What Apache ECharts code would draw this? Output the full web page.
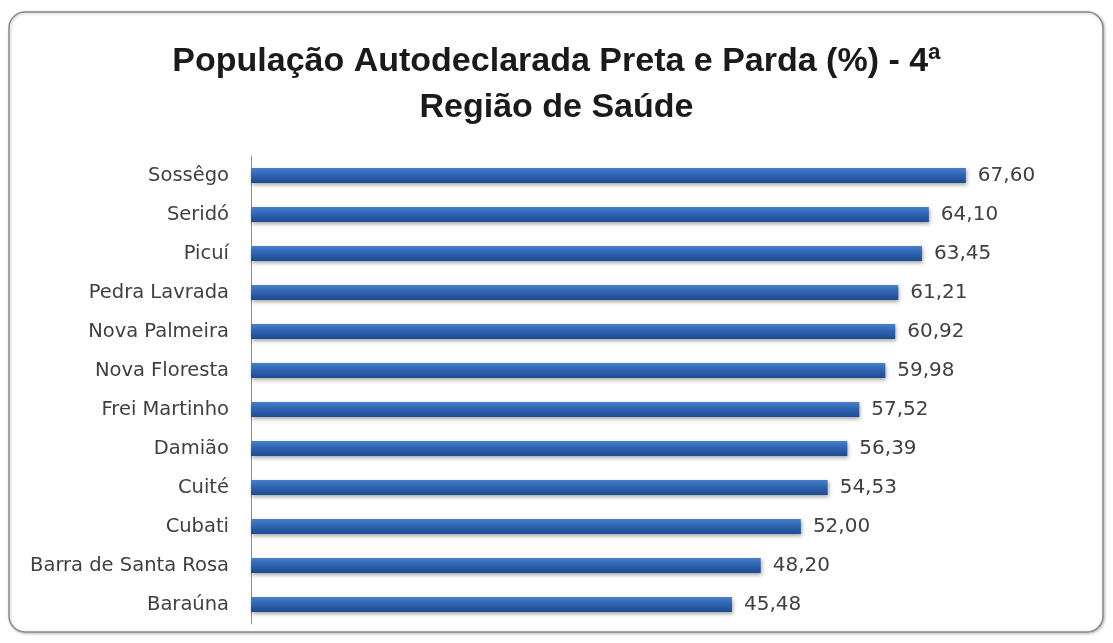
<!DOCTYPE html>
<html>
<head>
<meta charset="utf-8">
<script src="https://cdn.jsdelivr.net/npm/echarts@6/dist/echarts.min.js"></script>
<style>
html,body{margin:0;padding:0;background:#fff;}
#c{width:1113px;height:643px;}
</style>
</head>
<body>
<div id="c"></div>
<script>
const titleText = 'População Autodeclarada Preta e Parda (%) - 4ª\nRegião de Saúde';
const categories = ['Baraúna','Barra de Santa Rosa','Cubati','Cuité','Damião','Frei Martinho','Nova Floresta','Nova Palmeira','Pedra Lavrada','Picuí','Seridó','Sossêgo'];
const values = [45.48,48.20,52.00,54.53,56.39,57.52,59.98,60.92,61.21,63.45,64.10,67.60];

const chart = echarts.init(document.getElementById('c'));
chart.setOption({
  animation: false,
  backgroundColor: '#fff',
  graphic: [{
    type: 'rect',
    shape: {x: 9, y: 12, width: 1094, height: 620, r: 16},
    style: {fill: '#fff', stroke: '#8a8a8a', lineWidth: 1.5, shadowBlur: 3, shadowColor: 'rgba(0,0,0,0.25)', shadowOffsetX: 1, shadowOffsetY: 1},
    z: -10, silent: true
  }],
  title: {
    text: titleText,
    left: 'center',
    top: 34,
    textStyle: {fontFamily: 'Liberation Sans', fontWeight: 'bold', fontSize: 34, color: '#1a1a1a', lineHeight: 46}
  },
  grid: {left: 251, right: 16, top: 156, bottom: 19, containLabel: false},
  xAxis: {
    type: 'value', min: 0, max: 80, show: false
  },
  yAxis: {
    type: 'category',
    data: categories,
    axisLine: {show: true, lineStyle: {color: '#8c8c8c', width: 1}},
    axisTick: {show: false},
    axisLabel: {fontFamily: 'DejaVu Sans', fontSize: 19.5, color: '#404040', margin: 22, padding: [3, 0, 0, 0]}
  },
  series: [{
    type: 'bar',
    data: values,
    barWidth: 15,
    itemStyle: {
      color: new echarts.graphic.LinearGradient(0,0,0,1,[
        {offset: 0, color: '#4a7fcb'},
        {offset: 0.45, color: '#2f64b3'},
        {offset: 1, color: '#1f4a8e'}
      ]),
      shadowBlur: 4, shadowColor: 'rgba(0,0,0,0.35)', shadowOffsetY: 2, shadowOffsetX: 1
    },
    label: {
      show: true, position: 'right', distance: 12,
      fontFamily: 'DejaVu Sans', fontSize: 20, color: '#404040', padding: [3, 0, 0, 0],
      formatter: p => p.value.toFixed(2).replace('.', ',')
    }
  }]
});
</script>
</body>
</html>
